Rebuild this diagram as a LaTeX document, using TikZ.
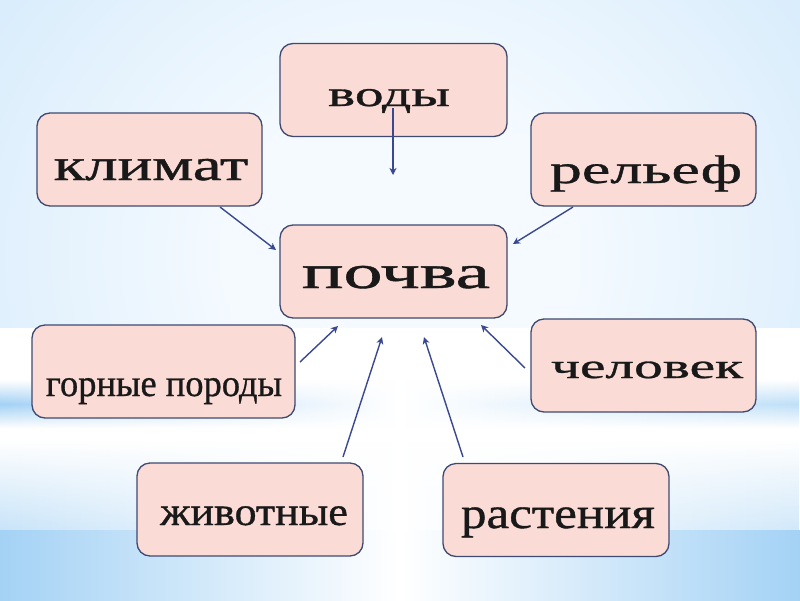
\documentclass[tikz,border=0pt]{standalone}
\usepackage{fontspec}
\usepackage{graphicx}
\setmainfont{Liberation Serif}
\newfontfamily\lblfont[FakeBold=0.8]{Liberation Serif}
\usetikzlibrary{arrows.meta,fadings}
\definecolor{boxfill}{HTML}{FADBD5}
\definecolor{boxline}{HTML}{3E4A72}
\definecolor{arr}{HTML}{3A4890}
\definecolor{bgblue}{HTML}{A4D2F5}
\definecolor{bglight}{HTML}{F4FAFF}
\pgfdeclareradialshading{bgrad}{\pgfpoint{0bp}{0bp}}{color(0bp)=(bglight); color(8bp)=(bglight); color(50bp)=(bgblue)}
\tikzfading[name=vstrip, top color=transparent!100, bottom color=transparent!100, middle color=transparent!0]
\tikzfading[name=vdown, top color=transparent!100, bottom color=transparent!0]
\begin{document}
\begin{tikzpicture}[x=1pt,y=-1pt,
  box/.style={draw=boxline, fill=boxfill, line width=1.3pt, rounded corners=13pt,
    inner sep=0pt, minimum height=93pt},
  lbl/.style={anchor=base, inner sep=0pt, text=black!90, font=\lblfont},
  conn/.style={draw=arr, line width=1.4pt, -{Stealth[length=7pt,width=7pt,inset=2pt]}}]
% background
\useasboundingbox (0,0) rectangle (800,600);
\begin{scope}
\clip (0,0) rectangle (800,600);
\shade[shading=bgrad] (-150,-250) rectangle (950,760);
\end{scope}
\fill[white] (0,328) rectangle (800,530);
\shade[left color=bgblue, right color=bgblue!70, middle color=white, path fading=vstrip] (0,380) rectangle (800,428);
\shade[left color=bgblue!60, right color=bgblue!50, middle color=white, path fading=vdown] (0,440) rectangle (800,530);
\shade[left color=bgblue, right color=bgblue, middle color=white] (0,530) rectangle (800,600);
% boxes
\node[box, minimum width=227pt] (vody) at (393.5,90) {};
\node[box, minimum width=225pt] (klimat) at (149.5,159.5) {};
\node[box, minimum width=225pt] (relef) at (643.5,159.5) {};
\node[box, minimum width=227pt] (pochva) at (393.5,271.5) {};
\node[box, minimum width=263pt] (gornye) at (163.5,371.5) {};
\node[box, minimum width=225pt] (chelovek) at (643.5,365.5) {};
\node[box, minimum width=226pt] (zhivotnye) at (250,509.5) {};
\node[box, minimum width=226pt] (rastenia) at (556,510) {};
% labels
\node[lbl] (tvody) at (389,106) {\fontsize{36}{40}\selectfont\scalebox{1.6}[1]{воды}};
\node[lbl] (tpochva) at (396,288) {\fontsize{47}{50}\selectfont\scalebox{1.66}[1]{почва}};
\node[lbl] (tklimat) at (151,180) {\fontsize{45}{48}\selectfont\scalebox{1.44}[1]{климат}};
\node[lbl] (trelef) at (646,183) {\fontsize{40}{44}\selectfont\scalebox{1.6}[1]{рельеф}};
\node[lbl] (tchelovek) at (647,378) {\fontsize{35}{38}\selectfont\scalebox{1.64}[1]{человек}};
\node[lbl] (tgornye) at (164,396) {\fontsize{38}{42}\selectfont\scalebox{0.96}[1]{горные породы}};
\node[lbl] (tzhivotnye) at (254,525) {\fontsize{40}{44}\selectfont\scalebox{1.1}[1]{животные}};
\node[lbl] (trastenia) at (558,528) {\fontsize{44}{48}\selectfont\scalebox{1.16}[1]{растения}};
% connector end points
\coordinate (a1) at (393,108); \coordinate (b1) at (393,175);
\coordinate (a2) at (220,207); \coordinate (b2) at (276,250);
\coordinate (a3) at (573,207); \coordinate (b3) at (513,244);
\coordinate (a4) at (300,362); \coordinate (b4) at (338,326);
\coordinate (a5) at (343,457); \coordinate (b5) at (382,337);
\coordinate (a6) at (463,457); \coordinate (b6) at (424,337);
\coordinate (a7) at (525,368); \coordinate (b7) at (481,325);
\draw[conn] (a1) -- (b1);
\draw[conn] (a2) -- (b2);
\draw[conn] (a3) -- (b3);
\draw[conn] (a4) -- (b4);
\draw[conn] (a5) -- (b5);
\draw[conn] (a6) -- (b6);
\draw[conn] (a7) -- (b7);
\end{tikzpicture}
\end{document}
